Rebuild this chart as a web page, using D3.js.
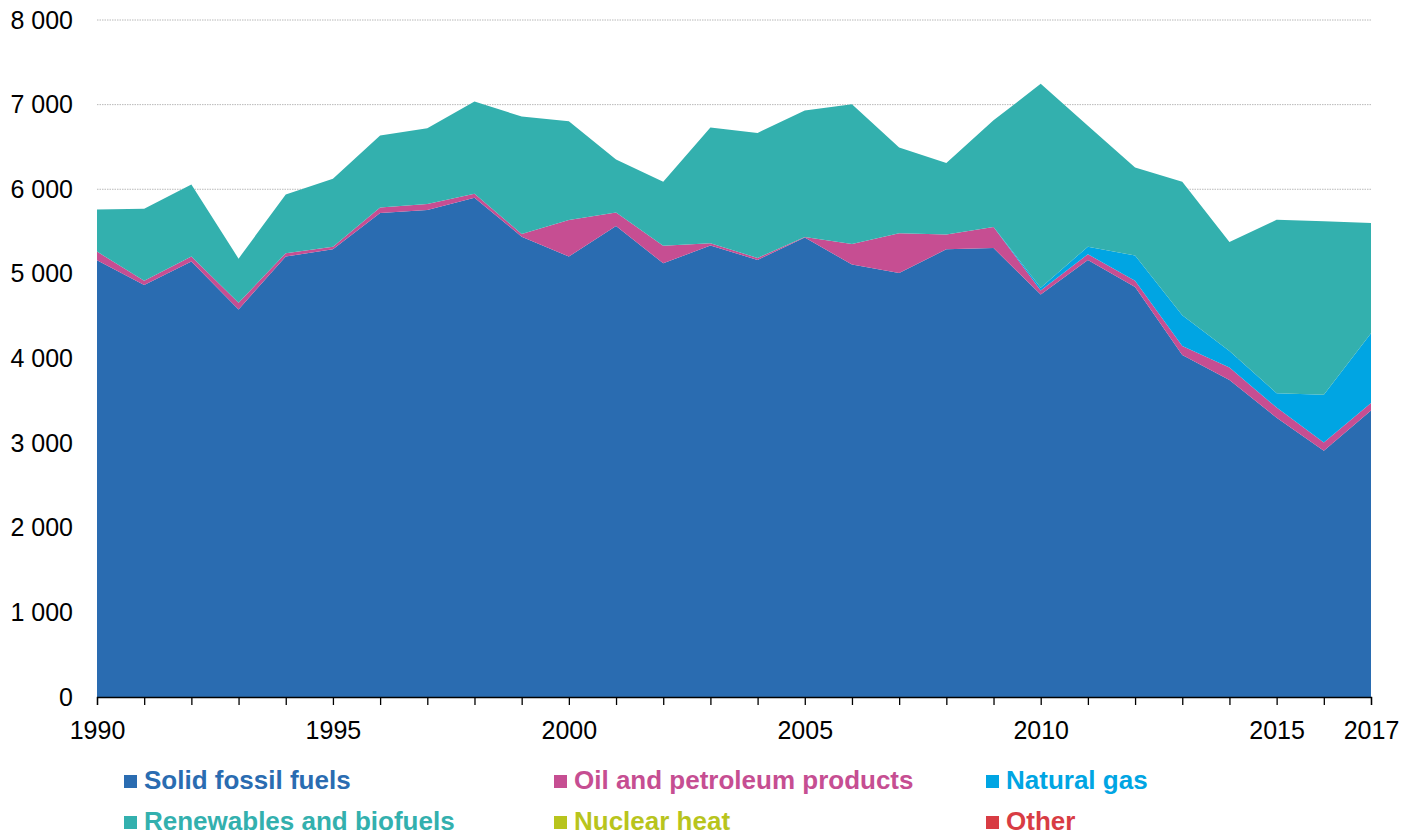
<!DOCTYPE html>
<html>
<head>
<meta charset="utf-8">
<script src="https://cdn.jsdelivr.net/npm/d3@7"></script>
<style>
  body { margin: 0; background: #fff; }
  svg { display: block; font-family: "Liberation Sans", Arial, sans-serif; }
</style>
</head>
<body>
<div id="wrapper"></div>
<script>
// values
const years = d3.range(1990, 2018);
const solidFossil = [5160, 4870, 5145, 4580, 5205, 5290, 5720, 5755, 5900, 5440,
                     5205, 5565, 5125, 5335, 5165, 5430, 5110, 5010, 5290, 5305,
                     4755, 5165, 4845, 4040, 3745, 3300, 2910, 3385];
const oilPetroleum = [103, 50, 59, 79, 40, 31, 63, 71, 47, 32,
                      432, 161, 208, 28, 23, 7, 244, 470, 176, 250,
                      50, 67, 74, 109, 149, 120, 98, 90];
const naturalGas = [0, 0, 0, 0, 0, 0, 0, 0, 0, 0,
                    0, 0, 0, 0, 0, 0, 0, 0, 0, 0,
                    30, 90, 298, 361, 195, 170, 564, 824];
const renewables = [497, 851, 852, 521, 694, 804, 851, 894, 1090, 1388,
                    1168, 627, 756, 1368, 1478, 1494, 1651, 1012, 843, 1259,
                    2411, 1428, 1040, 1580, 1287, 2049, 2051, 1302];
const nuclearHeat = years.map(() => 0);
const other = years.map(() => 0);

const seriesNames = ["Solid fossil fuels", "Oil and petroleum products", "Natural gas",
                     "Renewables and biofuels", "Nuclear heat", "Other"];
const seriesKeys = ["solid", "oil", "gas", "renew", "nuclear", "other"];
const colors = ["#2a6cb1", "#c64e92", "#00a5e3", "#33b0ae", "#b8c41d", "#d83c44"];
const xTickYears = [1990, 1995, 2000, 2005, 2010, 2015, 2017];
const yTicks = [0, 1000, 2000, 3000, 4000, 5000, 6000, 7000, 8000];

const table = years.map((yr, i) => ({
    year: yr,
    solid: solidFossil[i],
    oil: oilPetroleum[i],
    gas: naturalGas[i],
    renew: renewables[i],
    nuclear: nuclearHeat[i],
    other: other[i]
}));

const width = 1418;
const height = 836;
const margin = {top: 20, right: 47, bottom: 139, left: 97};
const innerW = width - margin.left - margin.right;
const innerH = height - margin.top - margin.bottom;

const svg = d3.select("#wrapper")
    .append("svg")
    .attr("width", width)
    .attr("height", height);

const bounds = svg.append("g")
    .attr("transform", `translate(${margin.left},${margin.top})`);

const x = d3.scaleLinear()
    .domain([1990, 2017])
    .range([0, innerW]);

const y = d3.scaleLinear()
    .domain([0, 8000])
    .range([innerH, 0]);

// dotted gridlines
bounds.append("g")
    .selectAll("line")
    .data(yTicks.filter(d => d > 0))
    .join("line")
    .attr("x1", 0)
    .attr("x2", innerW)
    .attr("y1", d => y(d))
    .attr("y2", d => y(d))
    .attr("stroke", "#b8b8b8")
    .attr("stroke-width", 1)
    .attr("stroke-dasharray", "1.5 1");

const stack = d3.stack().keys(seriesKeys);
const layers = stack(table).filter(l => d3.max(l, d => d[1] - d[0]) > 0);

const area = d3.area()
    .x(d => x(d.data.year))
    .y0(d => y(d[0]))
    .y1(d => y(d[1]));

bounds.append("g")
    .selectAll("path")
    .data(layers)
    .join("path")
    .attr("d", area)
    .attr("fill", d => colors[seriesKeys.indexOf(d.key)]);

// x axis
const xAxisGen = d3.axisBottom(x)
    .tickValues(years)
    .tickSize(8)
    .tickFormat(d => xTickYears.includes(d) ? d : "");

const xAxis = bounds.append("g")
    .attr("transform", `translate(0,${innerH})`)
    .call(xAxisGen);
xAxis.select(".domain").attr("stroke", "#000").attr("stroke-width", 1.3);
xAxis.selectAll(".tick line").attr("stroke", "#000").attr("stroke-width", 1.3);
xAxis.selectAll(".tick text")
    .attr("y", 24)
    .attr("dy", "0.71em")
    .attr("font-size", "25px")
    .attr("font-family", "'Liberation Sans', Arial, sans-serif")
    .attr("fill", "#000");

// y axis labels
const yAxisGen = d3.axisLeft(y)
    .tickValues(yTicks)
    .tickSize(0)
    .tickPadding(24)
    .tickFormat(d => d3.format(",")(d).replace(/,/g, " "));

const yAxis = bounds.append("g")
    .call(yAxisGen);
yAxis.select(".domain").remove();
yAxis.selectAll(".tick text")
    .attr("font-size", "25px")
    .attr("font-family", "'Liberation Sans', Arial, sans-serif")
    .attr("fill", "#000");

// legend
const legendCols = [124, 554, 986];
const legendRows = [789, 830];
const legend = svg.append("g")
    .selectAll("g")
    .data(seriesNames)
    .join("g")
    .attr("transform", (d, i) => `translate(${legendCols[i % 3]},${legendRows[Math.floor(i / 3)]})`);

legend.append("rect")
    .attr("x", 0)
    .attr("y", -14)
    .attr("width", 13)
    .attr("height", 13)
    .attr("fill", (d, i) => colors[i]);

legend.append("text")
    .attr("x", 20)
    .attr("y", 0)
    .text(d => d)
    .attr("font-size", "26px")
    .attr("font-weight", "bold")
    .attr("fill", (d, i) => colors[i]);
</script>
</body>
</html>
